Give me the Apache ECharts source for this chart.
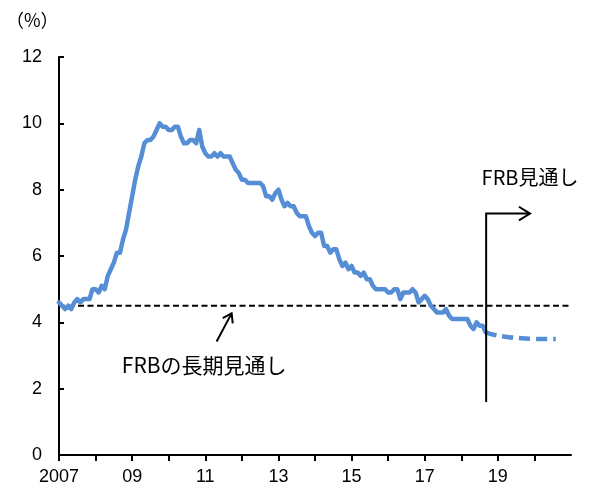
<!DOCTYPE html>
<html>
<head>
<meta charset="utf-8">
<script src="https://cdn.jsdelivr.net/npm/echarts@6/dist/echarts.min.js"></script>
<style>
html,body{margin:0;padding:0;background:#fff;}
#chart{width:599px;height:489px;}
</style>
</head>
<body>
<div id="chart"></div>
<script>
// Monthly US unemployment rate (%), Jan 2007 - Sep 2018
const startYear = 2007;
const unemployment = [
  4.6, 4.5, 4.4, 4.5, 4.4, 4.6, 4.7, 4.6, 4.7, 4.7, 4.7, 5.0,   // 2007
  5.0, 4.9, 5.1, 5.0, 5.4, 5.6, 5.8, 6.1, 6.1, 6.5, 6.8, 7.3,   // 2008
  7.8, 8.3, 8.7, 9.0, 9.4, 9.5, 9.5, 9.6, 9.8, 10.0, 9.9, 9.9,  // 2009
  9.8, 9.8, 9.9, 9.9, 9.6, 9.4, 9.4, 9.5, 9.5, 9.4, 9.8, 9.3,   // 2010
  9.1, 9.0, 9.0, 9.1, 9.0, 9.1, 9.0, 9.0, 9.0, 8.8, 8.6, 8.5,   // 2011
  8.3, 8.3, 8.2, 8.2, 8.2, 8.2, 8.2, 8.1, 7.8, 7.8, 7.7, 7.9,   // 2012
  8.0, 7.7, 7.5, 7.6, 7.5, 7.5, 7.3, 7.2, 7.2, 7.2, 6.9, 6.7,   // 2013
  6.6, 6.7, 6.7, 6.3, 6.3, 6.1, 6.2, 6.2, 5.9, 5.7, 5.8, 5.6,   // 2014
  5.7, 5.5, 5.5, 5.4, 5.5, 5.3, 5.3, 5.1, 5.0, 5.0, 5.0, 5.0,   // 2015
  4.9, 4.9, 5.0, 5.0, 4.7, 4.9, 4.9, 4.9, 5.0, 4.9, 4.6, 4.7,   // 2016
  4.8, 4.7, 4.5, 4.4, 4.3, 4.3, 4.3, 4.4, 4.2, 4.1, 4.1, 4.1,   // 2017
  4.1, 4.1, 4.1, 3.9, 3.8, 4.0, 3.9, 3.9, 3.7                   // 2018
];

// FRB projection (dashed)
const forecastX = [2018.667, 2018.917, 2019.25, 2019.667, 2020.0, 2020.583];
const forecastY = [3.7, 3.62, 3.56, 3.52, 3.5, 3.5];

// FRB long-run projection
const longRunX = [2007, 2021];
const longRunY = [4.5, 4.5];

// Axis settings
const xMin = 2007, xMax = 2021, xInterval = 1;
const yMin = 0, yMax = 12, yInterval = 2;

// Annotations (data coordinates)
const projMarker = {x: 2018.68, bottom: 1.6, top: 7.28, arrowEnd: 2019.88};
const longRunArrow = {fromX: 2011.31, fromY: 3.42, toX: 2011.72, toY: 4.27};
const labels = [
  {text: 'FRBの長期見通し', x: 2010.97, y: 2.71, size: 21},
  {text: 'FRB見通し', x: 2019.88, y: 8.38, size: 20}
];

const actualData = unemployment.map((v, i) => [startYear + i / 12, v]);
const forecastData = forecastX.map((x, i) => [x, forecastY[i]]);
const longRunData = longRunX.map((x, i) => [x, longRunY[i]]);

const numFont = '"Liberation Sans", Arial, sans-serif';
const cjkFont = '"Noto Sans CJK JP", sans-serif';

function headLines(p, angle, len, spread) {
  const a1 = angle + Math.PI - spread, a2 = angle + Math.PI + spread;
  return [
    [p[0] + len * Math.cos(a1), p[1] + len * Math.sin(a1)],
    p,
    [p[0] + len * Math.cos(a2), p[1] + len * Math.sin(a2)]
  ];
}

const chart = echarts.init(document.getElementById('chart'));
chart.setOption({
  animation: false,
  backgroundColor: '#fff',
  grid: {left: 59, right: 28, top: 57, bottom: 34, containLabel: false},
  graphic: [{
    type: 'text', left: 6, top: 11,
    style: {text: '（%）', font: '18px ' + cjkFont, fill: '#000'}
  }],
  xAxis: {
    type: 'value', min: xMin, max: xMax, interval: xInterval,
    axisLine: {show: true, onZero: false, lineStyle: {color: '#000', width: 2}},
    axisTick: {show: true, inside: false, length: 6, lineStyle: {color: '#000', width: 2}},
    splitLine: {show: false},
    axisLabel: {
      color: '#000', fontSize: 18, fontFamily: numFont, margin: 13,
      showMaxLabel: false,
      formatter: v => (v % 2 === 1 && v < xMax) ? (v === 2007 ? '2007' : String(v).slice(2)) : ''
    }
  },
  yAxis: {
    type: 'value', min: yMin, max: yMax, interval: yInterval,
    axisLine: {show: true, lineStyle: {color: '#000', width: 2}},
    axisTick: {show: true, inside: true, length: 5, lineStyle: {color: '#000', width: 2}},
    splitLine: {show: false},
    axisLabel: {color: '#000', fontSize: 18, fontFamily: numFont, margin: 17}
  },
  series: [
    {
      type: 'line', data: longRunData, symbol: 'none', z: 2,
      lineStyle: {color: '#000', width: 2, type: [6, 3.5]}
    },
    {
      type: 'line', data: actualData, symbol: 'none', z: 3,
      lineStyle: {color: '#558ED5', width: 4.5, join: 'round', cap: 'round'}
    },
    {
      type: 'line', data: forecastData, symbol: 'none', smooth: true, z: 3,
      lineStyle: {color: '#558ED5', width: 4.5, type: [11, 6]}
    },
    {
      type: 'custom', z: 5, silent: true,
      data: [0],
      renderItem: function (params, api) {
        const children = [];
        const lineStyle = {stroke: '#000', lineWidth: 2, fill: null};
        // projection marker
        const b = api.coord([projMarker.x, projMarker.bottom]);
        const t = api.coord([projMarker.x, projMarker.top]);
        const e = api.coord([projMarker.arrowEnd, projMarker.top]);
        children.push({type: 'polyline', shape: {points: [b, t, e]}, style: lineStyle});
        children.push({type: 'polyline', shape: {points: headLines(e, 0, 13, 0.55)}, style: lineStyle});
        // long-run arrow
        const f = api.coord([longRunArrow.fromX, longRunArrow.fromY]);
        const h = api.coord([longRunArrow.toX, longRunArrow.toY]);
        const ang = Math.atan2(h[1] - f[1], h[0] - f[0]);
        children.push({type: 'line', shape: {x1: f[0], y1: f[1], x2: h[0], y2: h[1]}, style: lineStyle});
        children.push({type: 'polyline', shape: {points: headLines(h, ang, 10, 0.6)}, style: lineStyle});
        // labels
        labels.forEach(l => {
          const p = api.coord([l.x, l.y]);
          children.push({type: 'text', style: {
            text: l.text, x: p[0], y: p[1], align: 'center', verticalAlign: 'middle',
            font: l.size + 'px ' + cjkFont, fill: '#000'
          }});
        });
        return {type: 'group', children: children};
      }
    }
  ]
});
</script>
</body>
</html>
